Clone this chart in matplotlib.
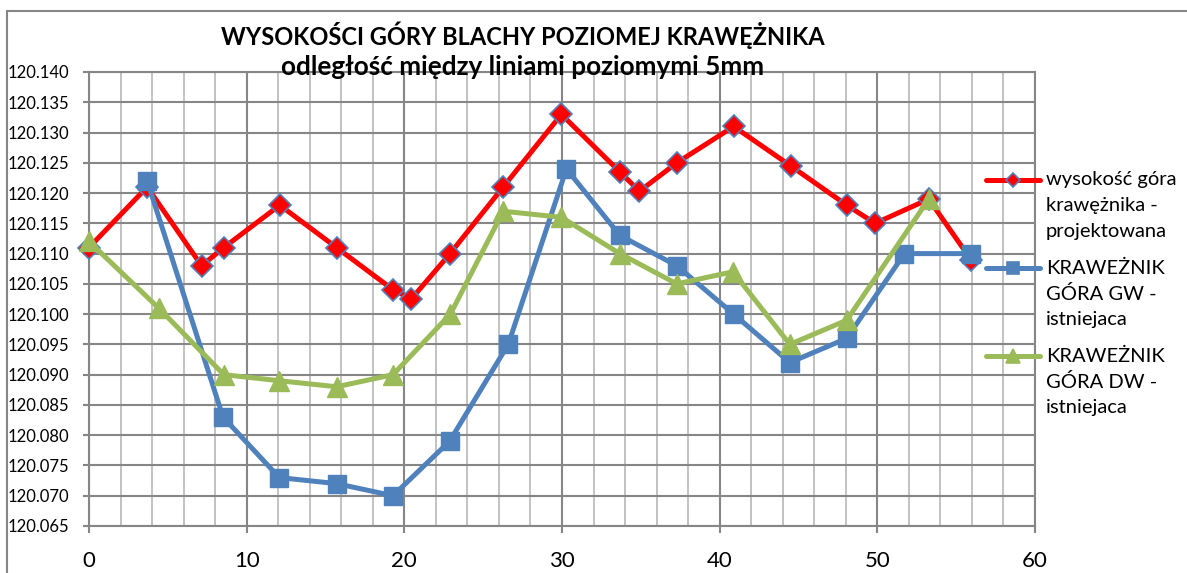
import matplotlib
matplotlib.use("Agg")
import matplotlib.pyplot as plt
from matplotlib.lines import Line2D
from matplotlib.patches import Rectangle
from matplotlib.ticker import MultipleLocator, FormatStrFormatter

# ---------------- data ----------------
title_line1 = "WYSOKOŚCI GÓRY BLACHY POZIOMEJ KRAWĘŻNIKA"
title_line2 = "odległość między liniami poziomymi 5mm"

proj_label = "wysokość góra\nkrawężnika -\nprojektowana"
proj_x = [0, 3.69, 7.14, 8.55, 12.1, 15.7, 19.3, 20.44, 22.9, 26.27,
          29.96, 33.67, 34.91, 37.28, 40.89, 44.5, 48.06, 49.86, 53.26, 55.94]
proj_y = [120.111, 120.121, 120.108, 120.111, 120.118, 120.111, 120.104, 120.1025,
          120.110, 120.121, 120.133, 120.1235, 120.1203, 120.125, 120.131, 120.1245,
          120.118, 120.115, 120.119, 120.109]

gw_label = "KRAWEŻNIK\nGÓRA GW -\nistniejaca"
gw_x = [3.69, 8.5, 12.07, 15.71, 19.28, 22.87, 26.59, 30.28, 33.67, 37.28,
        40.89, 44.45, 48.06, 51.72, 55.94]
gw_y = [120.122, 120.083, 120.073, 120.072, 120.070, 120.079, 120.095, 120.124,
        120.113, 120.108, 120.100, 120.092, 120.096, 120.110, 120.110]

dw_label = "KRAWEŻNIK\nGÓRA DW -\nistniejaca"
dw_x = [0, 4.42, 8.55, 12.07, 15.71, 19.28, 22.92, 26.27, 29.96, 33.67,
        37.28, 40.84, 44.45, 48.06, 53.26]
dw_y = [120.112, 120.101, 120.090, 120.089, 120.088, 120.090, 120.100, 120.117,
        120.116, 120.110, 120.105, 120.107, 120.095, 120.099, 120.119]

x_limits = (0, 60)
y_limits = (120.065, 120.140)

# ---------------- style ----------------
RED = "#FF0000"
BLUE = "#4F81BD"
GREEN = "#9BBB59"
GRID_MAJOR = "#868686"
GRID_MINOR = "#BDBDBD"
FONT = "Lato"

W, H, DPI = 1187, 573, 100
fig = plt.figure(figsize=(W / DPI, H / DPI), dpi=DPI)
fig.patch.set_facecolor("white")

def px(x, y):
    """pixel (from top-left) -> figure fraction"""
    return x / W, 1 - y / H

# outer chart border
fig.add_artist(Rectangle(px(7, 600), (W + 20) / W, (600 - 11) / H,
                         transform=fig.transFigure, fill=False,
                         edgecolor=GRID_MAJOR, lw=1.5))

left, right, top, bottom = 89, 1035, 72, 526
ax = fig.add_axes([left / W, 1 - bottom / H, (right - left) / W, (bottom - top) / H])

ax.set_xlim(*x_limits)
ax.set_ylim(*y_limits)

ax.xaxis.set_major_locator(MultipleLocator(10))
ax.xaxis.set_minor_locator(MultipleLocator(2))
ax.yaxis.set_major_locator(MultipleLocator(0.005))
ax.yaxis.set_major_formatter(FormatStrFormatter("%.3f"))

ax.grid(which="minor", axis="x", color=GRID_MINOR, lw=1.3)
ax.grid(which="major", axis="x", color=GRID_MAJOR, lw=1.5)
ax.grid(which="major", axis="y", color=GRID_MAJOR, lw=1.5)
ax.set_axisbelow(True)

for s in ax.spines.values():
    s.set_color(GRID_MAJOR)
    s.set_linewidth(1.5)

ax.tick_params(axis="x", which="major", length=5, width=1.5, color=GRID_MAJOR,
               pad=13, labelsize=16)
ax.tick_params(axis="x", which="minor", length=0)
ax.tick_params(axis="y", which="major", length=4, width=1.5, color=GRID_MAJOR,
               pad=10, labelsize=12)
for lab in ax.get_xticklabels() + ax.get_yticklabels():
    lab.set_family(FONT)

lw = 3.6
ax.plot(proj_x, proj_y, color=RED, lw=lw, marker="D", ms=11,
        markerfacecolor=RED, markeredgecolor=BLUE, markeredgewidth=1.2,
        zorder=3, clip_on=False)
ax.plot(gw_x, gw_y, color=BLUE, lw=lw, marker="s", ms=13,
        markerfacecolor=BLUE, markeredgecolor=BLUE, zorder=4, clip_on=False)
ax.plot(dw_x, dw_y, color=GREEN, lw=lw, marker="^", ms=14,
        markerfacecolor=GREEN, markeredgecolor=GREEN, zorder=5, clip_on=False)

# title
fig.text(*px(523, 35), title_line1, ha="center", va="center",
         fontsize=17, fontweight="bold", family=FONT)
fig.text(*px(523, 67), title_line2, ha="center", va="center",
         fontsize=18.8, fontweight="bold", family=FONT)

# legend (drawn manually to match layout)
entries = [
    (proj_label, RED, "D", 7, RED, BLUE),
    (gw_label, BLUE, "s", 9, BLUE, BLUE),
    (dw_label, GREEN, "^", 10, GREEN, GREEN),
]
ys = [180, 268, 356]
for (label, col, mk, ms, mfc, mec), y in zip(entries, ys):
    x0, y0 = px(986, y)
    x1, _ = px(1040, y)
    fig.add_artist(Line2D([x0, x1], [y0, y0], transform=fig.transFigure,
                          color=col, lw=lw, solid_capstyle="round"))
    fig.add_artist(Line2D([(x0 + x1) / 2], [y0], transform=fig.transFigure,
                          marker=mk, ms=ms, markerfacecolor=mfc,
                          markeredgecolor=mec, markeredgewidth=1.2, lw=0))
    for i, line in enumerate(label.split("\n")):
        fig.text(*px(1046, y + 26 * i), line, ha="left", va="center",
                 fontsize=14.5, family=FONT)

fig.savefig("out.png", dpi=DPI)
